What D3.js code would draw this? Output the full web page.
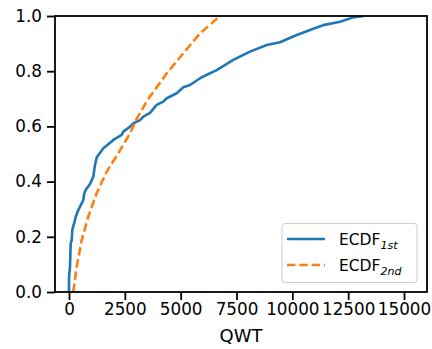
<!DOCTYPE html>
<html><head><meta charset="utf-8">
<script src="https://cdn.jsdelivr.net/npm/d3@7"></script>
<style>body{margin:0;background:#fff;} svg{display:block;font-family:"DejaVu Sans",sans-serif;}</style>
</head><body>
<svg id="c" width="432" height="349"></svg>
<script>
// ECDF of the 1st sample: QWT values and cumulative fraction
const qwt1st = [0, 0, 45, 76, 121, 148, 269, 300, 416, 493, 640, 685, 748, 940, 1088, 1164, 1240, 1536, 1912, 1984, 2360, 2432, 2732, 2879, 3179, 3327, 3627, 3927, 4223, 4375, 4823, 5118, 5418, 5942, 6614, 7357, 8105, 8853, 9449, 10197, 10792, 11388, 12135, 12731, 13179];
const ecdf1st = [0, 0.05, 0.092, 0.176, 0.188, 0.225, 0.261, 0.273, 0.297, 0.309, 0.333, 0.358, 0.370, 0.391, 0.418, 0.460, 0.487, 0.521, 0.545, 0.551, 0.569, 0.581, 0.599, 0.611, 0.623, 0.635, 0.649, 0.678, 0.690, 0.702, 0.720, 0.742, 0.750, 0.778, 0.804, 0.841, 0.871, 0.895, 0.905, 0.931, 0.949, 0.967, 0.979, 0.995, 1.0];
// ECDF of the 2nd sample
const qwt2nd = [190, 345, 569, 864, 1240, 1688, 2208, 2732, 3030, 3479, 3627, 4375, 5118, 5866, 6762];
const ecdf2nd = [0, 0.092, 0.188, 0.273, 0.358, 0.436, 0.503, 0.575, 0.627, 0.690, 0.708, 0.792, 0.865, 0.937, 1.0];
const xTicks = [0, 2500, 5000, 7500, 10000, 12500, 15000];
const yTicks = [0, 0.2, 0.4, 0.6, 0.8, 1.0];
const xLabel = "QWT";
const legendLabels = [["ECDF", "1st"], ["ECDF", "2nd"]];
const colors = ["#1f77b4", "#ff7f0e"];

const L = 55, R = 427, T = 16, B = 292;
const svg = d3.select("#c");
const x = d3.scaleLinear().domain([-627, 16030]).range([L, R]);
const y = d3.scaleLinear().domain([0, 1]).range([B, T]);

svg.append("clipPath").attr("id", "clip").append("rect")
  .attr("x", L).attr("y", T).attr("width", R - L).attr("height", B - T);

const line = d3.line().x(d => x(d[0])).y(d => y(d[1]));
const s1 = qwt1st.map((v, i) => [v, ecdf1st[i]]);
const s2 = qwt2nd.map((v, i) => [v, ecdf2nd[i]]);
const g = svg.append("g").attr("clip-path", "url(#clip)");
g.append("path").datum(s1).attr("d", line).attr("fill", "none")
  .attr("stroke", colors[0]).attr("stroke-width", 2.6).attr("stroke-linejoin", "round");
g.append("path").datum(s2).attr("d", line).attr("fill", "none")
  .attr("stroke", colors[1]).attr("stroke-width", 2.6).attr("stroke-dasharray", "8.5,3.8");

const xAxis = d3.axisBottom(x).tickValues(xTicks).tickFormat(d3.format("d")).tickSizeInner(8).tickSizeOuter(0).tickPadding(3);
const yAxis = d3.axisLeft(y).tickValues(yTicks).tickFormat(d3.format(".1f")).tickSizeInner(8).tickSizeOuter(0).tickPadding(5);
const gx = svg.append("g").attr("transform", `translate(0,${B})`).call(xAxis);
const gy = svg.append("g").attr("transform", `translate(${L},0)`).call(yAxis);
[gx, gy].forEach(a => {
  a.select(".domain").remove();
  a.selectAll(".tick line").attr("stroke", "#000").attr("stroke-width", 1.8);
  a.selectAll(".tick text").attr("fill", "#000").style("font-size", "16.8px").style("font-family", "DejaVu Sans");
});

svg.append("rect").attr("x", L).attr("y", T).attr("width", R - L).attr("height", B - T)
  .attr("fill", "none").attr("stroke", "#000").attr("stroke-width", 1.8);

svg.append("text").attr("x", (L + R) / 2).attr("y", 342).attr("text-anchor", "middle")
  .style("font-size", "18px").attr("fill", "#000").text(xLabel);
svg.append("text").attr("transform", "translate(11,175) rotate(-90)").attr("text-anchor", "middle")
  .style("font-size", "6px").attr("fill", "#888").text(".");

const lg = svg.append("g");
lg.append("rect").attr("x", 282).attr("y", 223.5).attr("width", 135).attr("height", 59).attr("rx", 3)
  .attr("fill", "#fff").attr("fill-opacity", 0.8).attr("stroke", "#ccc").attr("stroke-width", 1);
legendLabels.forEach((lab, i) => {
  const yy = 239 + i * 26;
  lg.append("line").attr("x1", 287).attr("x2", 325).attr("y1", yy).attr("y2", yy)
    .attr("stroke", colors[i]).attr("stroke-width", 2.6)
    .attr("stroke-dasharray", i === 1 ? "8.5,3.8" : null);
  const t = lg.append("text").attr("x", 339).attr("y", yy + 6).style("font-size", "15.5px").attr("fill", "#000");
  t.append("tspan").text(lab[0]);
  t.append("tspan").attr("dy", 3.5).style("font-size", "11px").style("font-style", "italic").text(lab[1]);
});
</script>
</body></html>
